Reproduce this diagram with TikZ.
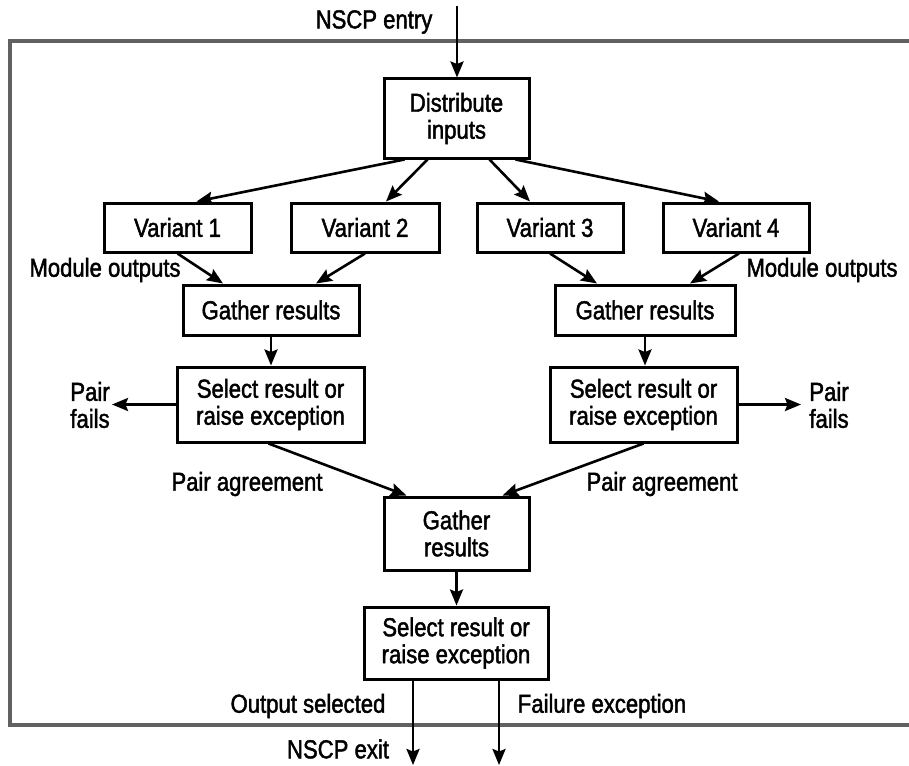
\documentclass[tikz,border=0pt]{standalone}
\usepackage{fontspec}
\setmainfont{Liberation Sans}[FakeStretch=0.85,FakeBold=1.7]
\usetikzlibrary{arrows.meta,calc}

\begin{document}
\begin{tikzpicture}[x=1pt,y=-1pt,
  every node/.style={font=\fontsize{26}{27}\selectfont, inner sep=0pt, align=center},
  box/.style={draw, line width=3pt, rectangle},
  arr/.style={line width=2.6pt, -{Stealth[length=16pt,width=13pt,inset=2.5pt]}},
  frame/.style={draw=black!62, line width=4pt}
]
\useasboundingbox (0,0) rectangle (909,765);

% outer system boundary, open on the right
\draw[frame] (912,41) -- (10,41) -- (10,725) -- (912,725);

% processing blocks
\node[box, minimum width=145, minimum height=79] (dist) at (456.5,118.5) {Distribute\\inputs};

\node[box, minimum width=147, minimum height=49] (v1) at (177.5,227.5) {Variant 1};
\node[box, minimum width=148, minimum height=49] (v2) at (365,227.5) {Variant 2};
\node[box, minimum width=146, minimum height=49] (v3) at (550,227.5) {Variant 3};
\node[box, minimum width=146, minimum height=49] (v4) at (736,227.5) {Variant 4};

\node[box, minimum width=176, minimum height=50] (g1) at (271,310) {Gather results};
\node[box, minimum width=180, minimum height=50] (g2) at (645,310) {Gather results};

\node[box, minimum width=187, minimum height=75] (s1) at (270.5,404.5) {Select result or\\raise exception};
\node[box, minimum width=187, minimum height=75] (s2) at (643.5,404.5) {Select result or\\raise exception};

\node[box, minimum width=145, minimum height=73] (gc) at (456.5,533.5) {Gather\\results};
\node[box, minimum width=184, minimum height=72] (sc) at (456,643) {Select result or\\raise exception};

% free ends
\coordinate (entry) at (457,6);
\coordinate (pf1) at (112,404.5);
\coordinate (pf2) at (801,404.5);
\coordinate (exit1) at (413,765);
\coordinate (exit2) at (499,765);

% labels
\node (lentry) at (374,22) {NSCP entry};
\node (lmod1) at (105,270) {Module outputs};
\node (lmod2) at (822,270) {Module outputs};
\node (lpf1) at (90,405) {Pair\\fails};
\node (lpf2) at (829,405) {Pair\\fails};
\node (lpa1) at (247,484) {Pair agreement};
\node (lpa2) at (662,484) {Pair agreement};
\node (lout) at (308,706) {Output selected};
\node (lfail) at (602,706) {Failure exception};
\node (lexit) at (338,749) {NSCP exit};

% connectors
\draw[arr] (entry) -- (entry |- dist.north);

\draw[arr] ([xshift=-52pt]dist.south) -- ([xshift=19pt]v1.north);
\draw[arr] ([xshift=-29pt]dist.south) -- ([xshift=21pt]v2.north);
\draw[arr] ([xshift=33pt]dist.south) -- ([xshift=-20pt]v3.north);
\draw[arr] ([xshift=59pt]dist.south) -- ([xshift=-17pt]v4.north);

\draw[arr] (v1.south) -- ([xshift=-48pt]g1.north);
\draw[arr] (v2.south) -- ([xshift=45pt]g1.north);
\draw[arr] (v3.south) -- ([xshift=-48pt]g2.north);
\draw[arr] ([xshift=3pt]v4.south) -- ([xshift=45pt]g2.north);

\draw[arr] (g1.south) -- (g1.south |- s1.north);
\draw[arr] (g2.south) -- (g2.south |- s2.north);

\draw[arr] (s1.west) -- (pf1);
\draw[arr] (s2.east) -- (pf2);

\draw[arr] ([xshift=-2pt]s1.south) -- ([xshift=-50pt]gc.north);
\draw[arr] (s2.south) -- ([xshift=46pt]gc.north);

\draw[arr] (gc.south) -- (gc.south |- sc.north);

\draw[arr] ([xshift=-43pt]sc.south) -- (exit1);
\draw[arr] ([xshift=43pt]sc.south) -- (exit2);
\end{tikzpicture}
\end{document}
